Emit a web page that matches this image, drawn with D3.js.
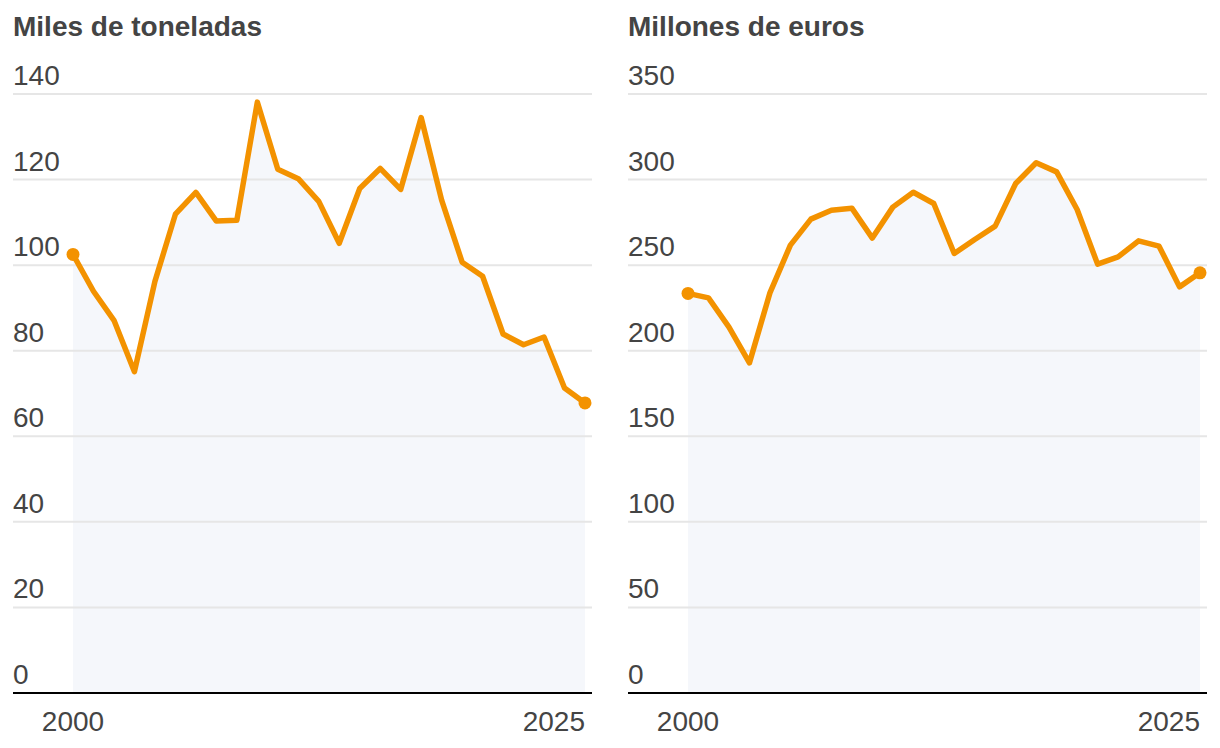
<!DOCTYPE html>
<html lang="es">
<head>
  <meta charset="UTF-8">
  <title>Miles de toneladas / Millones de euros</title>
  <script src="https://d3js.org/d3.v7.min.js"></script>
  <style>
    body { margin: 0; background: #fff; }
    text { font-family: "Liberation Sans", Arial, sans-serif; fill: #444; }
    .title { font-size: 28px; font-weight: bold; }
    .tick-label { font-size: 28px; }
    .grid { stroke: #e6e6e6; stroke-width: 2px; }
    .base { stroke: #000; stroke-width: 2px; }
    .area { fill: #f5f7fb; }
    .line { fill: none; stroke: #f39200; stroke-width: 5.5px; stroke-linejoin: round; }
    .dot { fill: #f39200; }
  </style>
</head>
<body>
  <div id="chart"></div>
  <script>
    const width = 1220, height = 748;

    const years = d3.range(2000, 2026);

    const toneladas = [
      102.5, 93.9, 87.1, 75.1, 96.2, 111.9, 117.0, 110.3, 110.5, 138.1,
      122.4, 120.2, 114.9, 105.1, 117.9, 122.6, 117.7, 134.5, 115.2, 100.7,
      97.4, 83.9, 81.4, 83.2, 71.3, 67.8
    ];

    const euros = [
      233.5, 230.9, 213.8, 192.9, 233.8, 261.7, 276.9, 282.1, 283.3, 265.8,
      283.9, 292.6, 286.0, 256.8, 265.0, 272.8, 297.7, 309.8, 304.5, 282.5,
      250.6, 254.8, 264.2, 261.1, 237.3, 245.5
    ];

    const panels = [
      { title: "Miles de toneladas", values: toneladas, max: 140, ticks: [0, 20, 40, 60, 80, 100, 120, 140], x0: 13 },
      { title: "Millones de euros", values: euros, max: 350, ticks: [0, 50, 100, 150, 200, 250, 300, 350], x0: 628 }
    ];

    const xLabels = [2000, 2025];

    const svg = d3.select("#chart").append("svg")
      .attr("width", width)
      .attr("height", height);

    const panelW = 579, yTop = 94, yBottom = 693;

    panels.forEach(p => {
      const g = svg.append("g");

      const x = d3.scaleLinear()
        .domain([2000, 2025])
        .range([p.x0 + 60, p.x0 + panelW - 7]);

      const y = d3.scaleLinear()
        .domain([0, p.max])
        .range([yBottom, yTop]);

      g.append("text")
        .attr("class", "title")
        .attr("x", p.x0)
        .attr("y", 36)
        .text(p.title);

      const data = years.map((yr, i) => ({ year: yr, value: p.values[i] }));

      g.append("path")
        .datum(data)
        .attr("class", "area")
        .attr("d", d3.area()
          .x(d => x(d.year))
          .y0(y(0))
          .y1(d => y(d.value)));

      g.selectAll(".grid")
        .data(p.ticks.filter(t => t > 0))
        .enter().append("line")
        .attr("class", "grid")
        .attr("x1", p.x0)
        .attr("x2", p.x0 + panelW)
        .attr("y1", d => y(d))
        .attr("y2", d => y(d));

      g.selectAll(".tick-label")
        .data(p.ticks)
        .enter().append("text")
        .attr("class", "tick-label")
        .attr("x", p.x0)
        .attr("y", d => y(d) - 9)
        .text(d => d);

      g.append("line")
        .attr("class", "base")
        .attr("x1", p.x0)
        .attr("x2", p.x0 + panelW)
        .attr("y1", y(0))
        .attr("y2", y(0));

      g.append("path")
        .datum(data)
        .attr("class", "line")
        .attr("d", d3.line()
          .x(d => x(d.year))
          .y(d => y(d.value)));

      g.selectAll(".dot")
        .data([data[0], data[data.length - 1]])
        .enter().append("circle")
        .attr("class", "dot")
        .attr("r", 6.5)
        .attr("cx", d => x(d.year))
        .attr("cy", d => y(d.value));

      g.selectAll(".x-label")
        .data(xLabels)
        .enter().append("text")
        .attr("class", "tick-label x-label")
        .attr("x", d => x(d))
        .attr("y", 731)
        .attr("text-anchor", (d, i) => i === 0 ? "middle" : "end")
        .text(d => d);
    });
  </script>
</body>
</html>
